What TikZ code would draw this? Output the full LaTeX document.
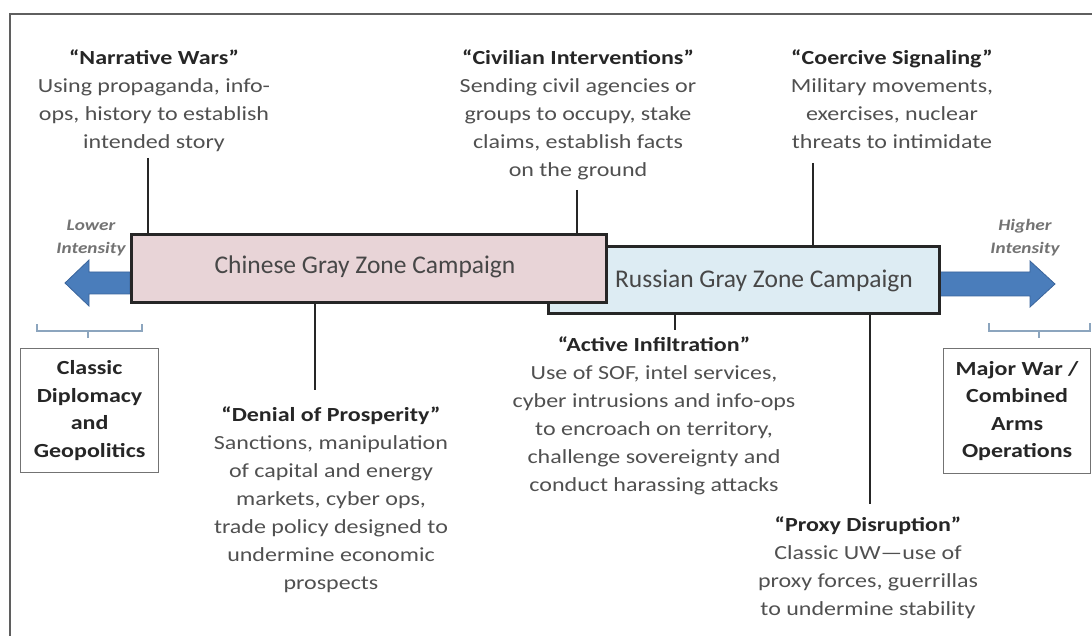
\documentclass[tikz,border=0pt]{standalone}
\usepackage{fontspec}
\setmainfont[FakeStretch=1.2]{Carlito}
\newfontfamily\plainfont{Carlito}
\definecolor{pinkfill}{RGB}{232,212,215}
\definecolor{bluefill}{RGB}{221,236,243}
\definecolor{arrowblue}{RGB}{74,125,187}
\definecolor{arrowedge}{RGB}{58,100,155}
\definecolor{bodytext}{RGB}{80,80,80}
\definecolor{titletext}{RGB}{38,38,38}
\definecolor{bracketc}{RGB}{140,165,190}
\definecolor{framec}{RGB}{95,95,95}
\tikzset{
  campaign/.style={draw=black!85, line width=2.6pt, inner sep=0pt},
  campaignlabel/.style={inner sep=0pt, font=\plainfont\fontsize{25.5}{30}\selectfont, text=black!72},
  blurb/.style={align=center, inner sep=0pt, anchor=north, text=bodytext, font=\fontsize{20}{28}\selectfont},
  endbox/.style={draw=black!55, line width=1.2pt, align=center, inner sep=0pt, text=titletext, font=\fontsize{20}{27.5}\selectfont\bfseries},
  connector/.style={draw=black!85, line width=2.8pt},
  intensity/.style={align=center, inner sep=0pt, text=black!55, font=\fontsize{16}{23}\selectfont\bfseries\itshape},
  bigarrow/.style={fill=arrowblue, draw=arrowedge, line width=0.8pt},
  bracket/.style={draw=bracketc, line width=1.2pt}
}
\newcommand{\ttl}[1]{{\color{titletext}\bfseries #1}}
\begin{document}
\begin{tikzpicture}[x=1pt,y=-1pt]
\useasboundingbox (0,0) rectangle (1092,636);
% frame
\draw[framec, line width=1.8pt] (10,636) -- (10,14) -- (1092,14);

% arrows
\draw[bigarrow] (130,272) -- (89,272) -- (89,260) -- (65,283) -- (89,306) -- (89,294) -- (130,294) -- cycle;
\draw[bigarrow] (938,272) -- (1030,272) -- (1030,261) -- (1055,284) -- (1030,307) -- (1030,296) -- (938,296) -- cycle;

% campaign boxes
\node[campaign, fill=bluefill, minimum width=391pt, minimum height=67pt, anchor=north west] (russian) at (547,245) {};
\node[campaignlabel] (rlabel) at (764,281) {Russian Gray Zone Campaign};
\node[campaign, fill=pinkfill, minimum width=475pt, minimum height=68pt, anchor=north west] (chinese) at (130,233) {};
\node[campaignlabel] (clabel) at (365,267) {Chinese Gray Zone Campaign};

% intensity labels
\node[intensity] (lower) at (91,238) {Lower\\Intensity};
\node[intensity] (higher) at (1025,238) {Higher\\Intensity};

% brackets
\draw[bracket] (37,324) -- (37,331) -- (142,331) -- (142,324);
\coordinate (lbt) at (88,331);
\coordinate (lbb) at (88,338);
\draw[bracket] (lbt) -- (lbb);
\draw[bracket] (989,323) -- (989,331) -- (1090,331) -- (1090,323);
\coordinate (rbt) at (1039,331);
\coordinate (rbb) at (1039,338);
\draw[bracket] (rbt) -- (rbb);

% end boxes
\node[endbox, anchor=north west, minimum width=138pt, minimum height=124pt] (diplo) at (20,348) {Classic\\Diplomacy\\and\\Geopolitics};
\node[endbox, anchor=north west, minimum width=147pt, minimum height=125pt] (war) at (943,348) {Major War /\\Combined\\Arms\\Operations};

% blurbs
\node[blurb] (narr) at (154,50) {\ttl{“Narrative Wars”}\\Using propaganda, info-\\ops, history to establish\\intended story};
\node[blurb] (civil) at (578,50) {\ttl{“Civilian Interventions”}\\Sending civil agencies or\\groups to occupy, stake\\claims, establish facts\\on the ground};
\node[blurb] (coerc) at (892,50) {\ttl{“Coercive Signaling”}\\Military movements,\\exercises, nuclear\\threats to intimidate};
\node[blurb] (denial) at (331,407) {\ttl{“Denial of Prosperity”}\\Sanctions, manipulation\\of capital and energy\\markets, cyber ops,\\trade policy designed to\\undermine economic\\prospects};
\node[blurb] (active) at (654,337) {\ttl{“Active Infiltration”}\\Use of SOF, intel services,\\cyber intrusions and info-ops\\to encroach on territory,\\challenge sovereignty and\\conduct harassing attacks};
\node[blurb] (proxy) at (868,517) {\ttl{“Proxy Disruption”}\\Classic UW—use of\\proxy forces, guerrillas\\to undermine stability};

% connectors
\coordinate (c1) at (148,158);
\draw[connector] (c1) -- (c1 |- chinese.north);
\coordinate (c2) at (577,190);
\draw[connector] (c2) -- (c2 |- chinese.north);
\coordinate (c3) at (813,163);
\draw[connector] (c3) -- (c3 |- russian.north);
\coordinate (c4) at (315,390);
\draw[connector] (c4 |- chinese.south) -- (c4);
\coordinate (c5) at (675,330);
\draw[connector] (c5 |- russian.south) -- (c5);
\coordinate (c6) at (870,504);
\draw[connector] (c6 |- russian.south) -- (c6);
\end{tikzpicture}
\end{document}
